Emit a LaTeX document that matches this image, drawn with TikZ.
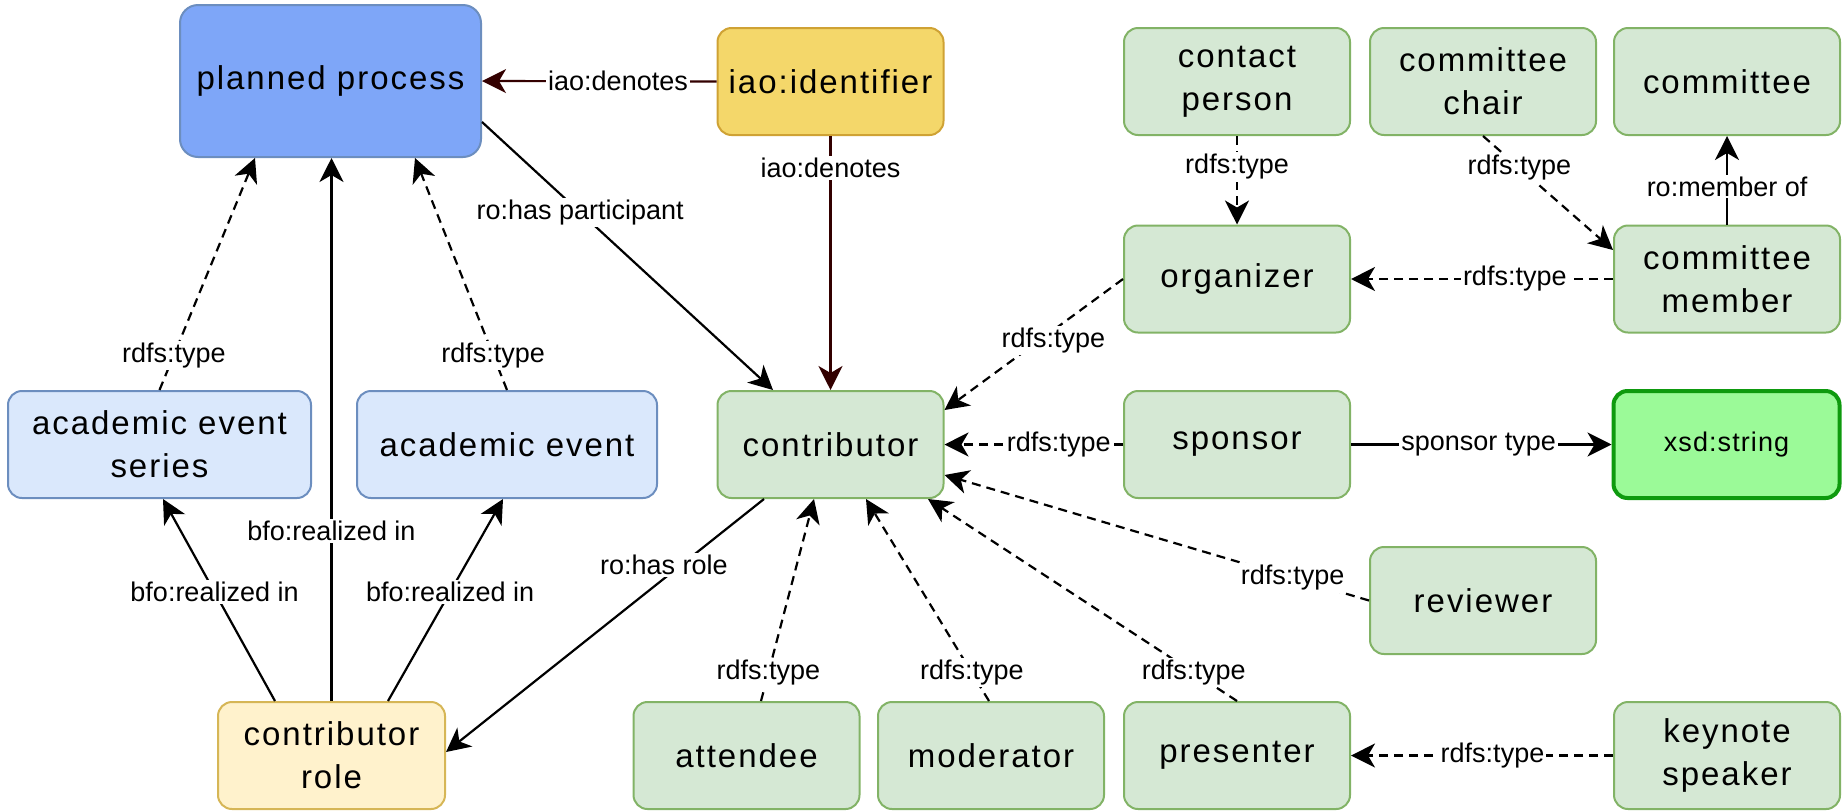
\documentclass[tikz,border=0pt]{standalone}
\usepackage{fontspec}
\setmainfont{Liberation Sans}
\newfontfamily\boxfont{Liberation Sans}[LetterSpace=6]
\newfontfamily\xsdfont{Liberation Sans}[LetterSpace=4]
\usetikzlibrary{arrows.meta}
\definecolor{ppfill}{HTML}{7EA6F8}
\definecolor{bluedraw}{HTML}{6C8EBF}
\definecolor{lbfill}{HTML}{DAE8FC}
\definecolor{idfill}{HTML}{F4D76A}
\definecolor{iddraw}{HTML}{CFA234}
\definecolor{crfill}{HTML}{FFF2CC}
\definecolor{crdraw}{HTML}{D6B656}
\definecolor{gfill}{HTML}{D5E8D4}
\definecolor{gdraw}{HTML}{82B366}
\definecolor{xfill}{HTML}{9BFA98}
\definecolor{xdraw}{HTML}{0E9A0E}
\definecolor{maroon}{HTML}{330000}
\begin{document}
\begin{tikzpicture}[x=0.5pt,y=-0.5pt,
  box/.style={draw, rounded corners=7pt, line width=1pt, minimum width=113pt,
    minimum height=53.5pt, inner sep=0pt, align=center,
    font=\boxfont\fontsize{16.5}{21.5}\selectfont},
  grn/.style={box, fill=gfill, draw=gdraw},
  lblue/.style={box, fill=lbfill, draw=bluedraw, minimum width=151pt},
  conn/.style={line width=1.1pt, -{Stealth[length=12pt,width=12pt,inset=3.5pt]}},
  dsh/.style={conn, dash pattern=on 4.5pt off 3pt},
  lbl/.style={fill=white, inner sep=1pt, text=black, font=\fontsize{13.5}{15}\selectfont},
]
\useasboundingbox (0,0) rectangle (1845,810);

% nodes
\node[box, fill=ppfill, draw=bluedraw, minimum width=150.5pt, minimum height=76pt, rounded corners=9pt] (pp) at (330.5,81) {planned process};
\node[box, fill=idfill, draw=iddraw] (iao) at (830.5,81.5) {iao:identifier};
\node[grn] (cp) at (1237,81.5) {contact\\person};
\node[grn] (cc) at (1483,81.5) {committee\\chair};
\node[grn] (com) at (1727,81.5) {committee};
\node[grn] (org) at (1237,279) {organizer};
\node[grn] (cm) at (1727,279) {committee\\member};
\node[lblue, minimum width=151.5pt] (aes) at (159.5,444.5) {academic event\\series};
\node[lblue, minimum width=150pt] (ae) at (507,444.5) {academic event};
\node[grn] (con) at (830.5,444.5) {contributor};
\node[grn] (sp) at (1237,444.5) {sponsor};
\node[box, fill=xfill, draw=xdraw, line width=2pt, font=\xsdfont\fontsize{13.5}{16}\selectfont] (xsd) at (1726.5,444.5) {xsd:string};
\node[grn] (rev) at (1483,600.5) {reviewer};
\node[box, fill=crfill, draw=crdraw, minimum width=113.5pt] (cr) at (331.5,755.5) {contributor\\role};
\node[grn] (att) at (746.5,755.5) {attendee};
\node[grn] (mod) at (991,755.5) {moderator};
\node[grn] (pres) at (1237,755.5) {presenter};
\node[grn] (ks) at (1727,755.5) {keynote\\speaker};

% connectors
\draw[conn, draw=maroon] (iao.west) -- node[lbl, pos=0.42] {iao:denotes} (pp.east);
\draw[conn, draw=maroon] (iao.south) -- node[lbl, pos=0.125] {iao:denotes} (con.north);
\draw[conn] (pp.east |- 0,122) -- node[lbl, pos=0.337] {ro:has participant} (773,0 |- con.north);
\draw[dsh] (aes.north) -- node[lbl, pos=0.15] {rdfs:type} (255,0 |- pp.south);
\draw[dsh] (ae.north) -- node[lbl, pos=0.15] {rdfs:type} (415,0 |- pp.south);
\draw[conn] (cr.north) -- node[lbl, pos=0.313] {bfo:realized in} (cr.north |- pp.south);
\draw[conn] (275,0 |- cr.north) -- node[lbl, pos=0.54] {bfo:realized in} (163,0 |- aes.south);
\draw[conn] (388,0 |- cr.north) -- node[lbl, pos=0.54] {bfo:realized in} (503,0 |- ae.south);
\draw[conn] (764,0 |- con.south) -- node[lbl, pos=0.315, yshift=7pt] {ro:has role} (cr.east |- 0,752);
\draw[dsh] (761,0 |- att.north) -- node[lbl, pos=0.14] {rdfs:type} (814,0 |- con.south);
\draw[dsh] (989,0 |- mod.north) -- node[lbl, pos=0.14] {rdfs:type} (866,0 |- con.south);
\draw[dsh] (pres.north) -- node[lbl, pos=0.14] {rdfs:type} (928,0 |- con.south);
\draw[dsh] (rev.west) -- node[lbl, pos=0.18] {rdfs:type} (con.east |- 0,475);
\draw[dsh] (sp.west) -- node[lbl, pos=0.36] {rdfs:type} (con.east);
\draw[dsh] (org.west) -- node[lbl, pos=0.39, yshift=-5pt] {rdfs:type} (con.east |- 0,410);
\draw[dsh] (cp.south) -- node[lbl, pos=0.35] {rdfs:type} (org.north);
\draw[dsh] (cc.south) -- node[lbl, pos=0.28] {rdfs:type} (cm.west |- 0,250);
\draw[dsh] (cm.west) -- node[lbl, pos=0.375] {rdfs:type} (org.east);
\draw[conn] (cm.north) -- node[lbl, pos=0.43] {ro:member of} (com.south);
\draw[conn] (sp.east) -- node[lbl, pos=0.49] {sponsor type} (xsd.west);
\draw[dsh] (ks.west) -- node[lbl, pos=0.46] {rdfs:type} (pres.east);
\end{tikzpicture}
\end{document}
